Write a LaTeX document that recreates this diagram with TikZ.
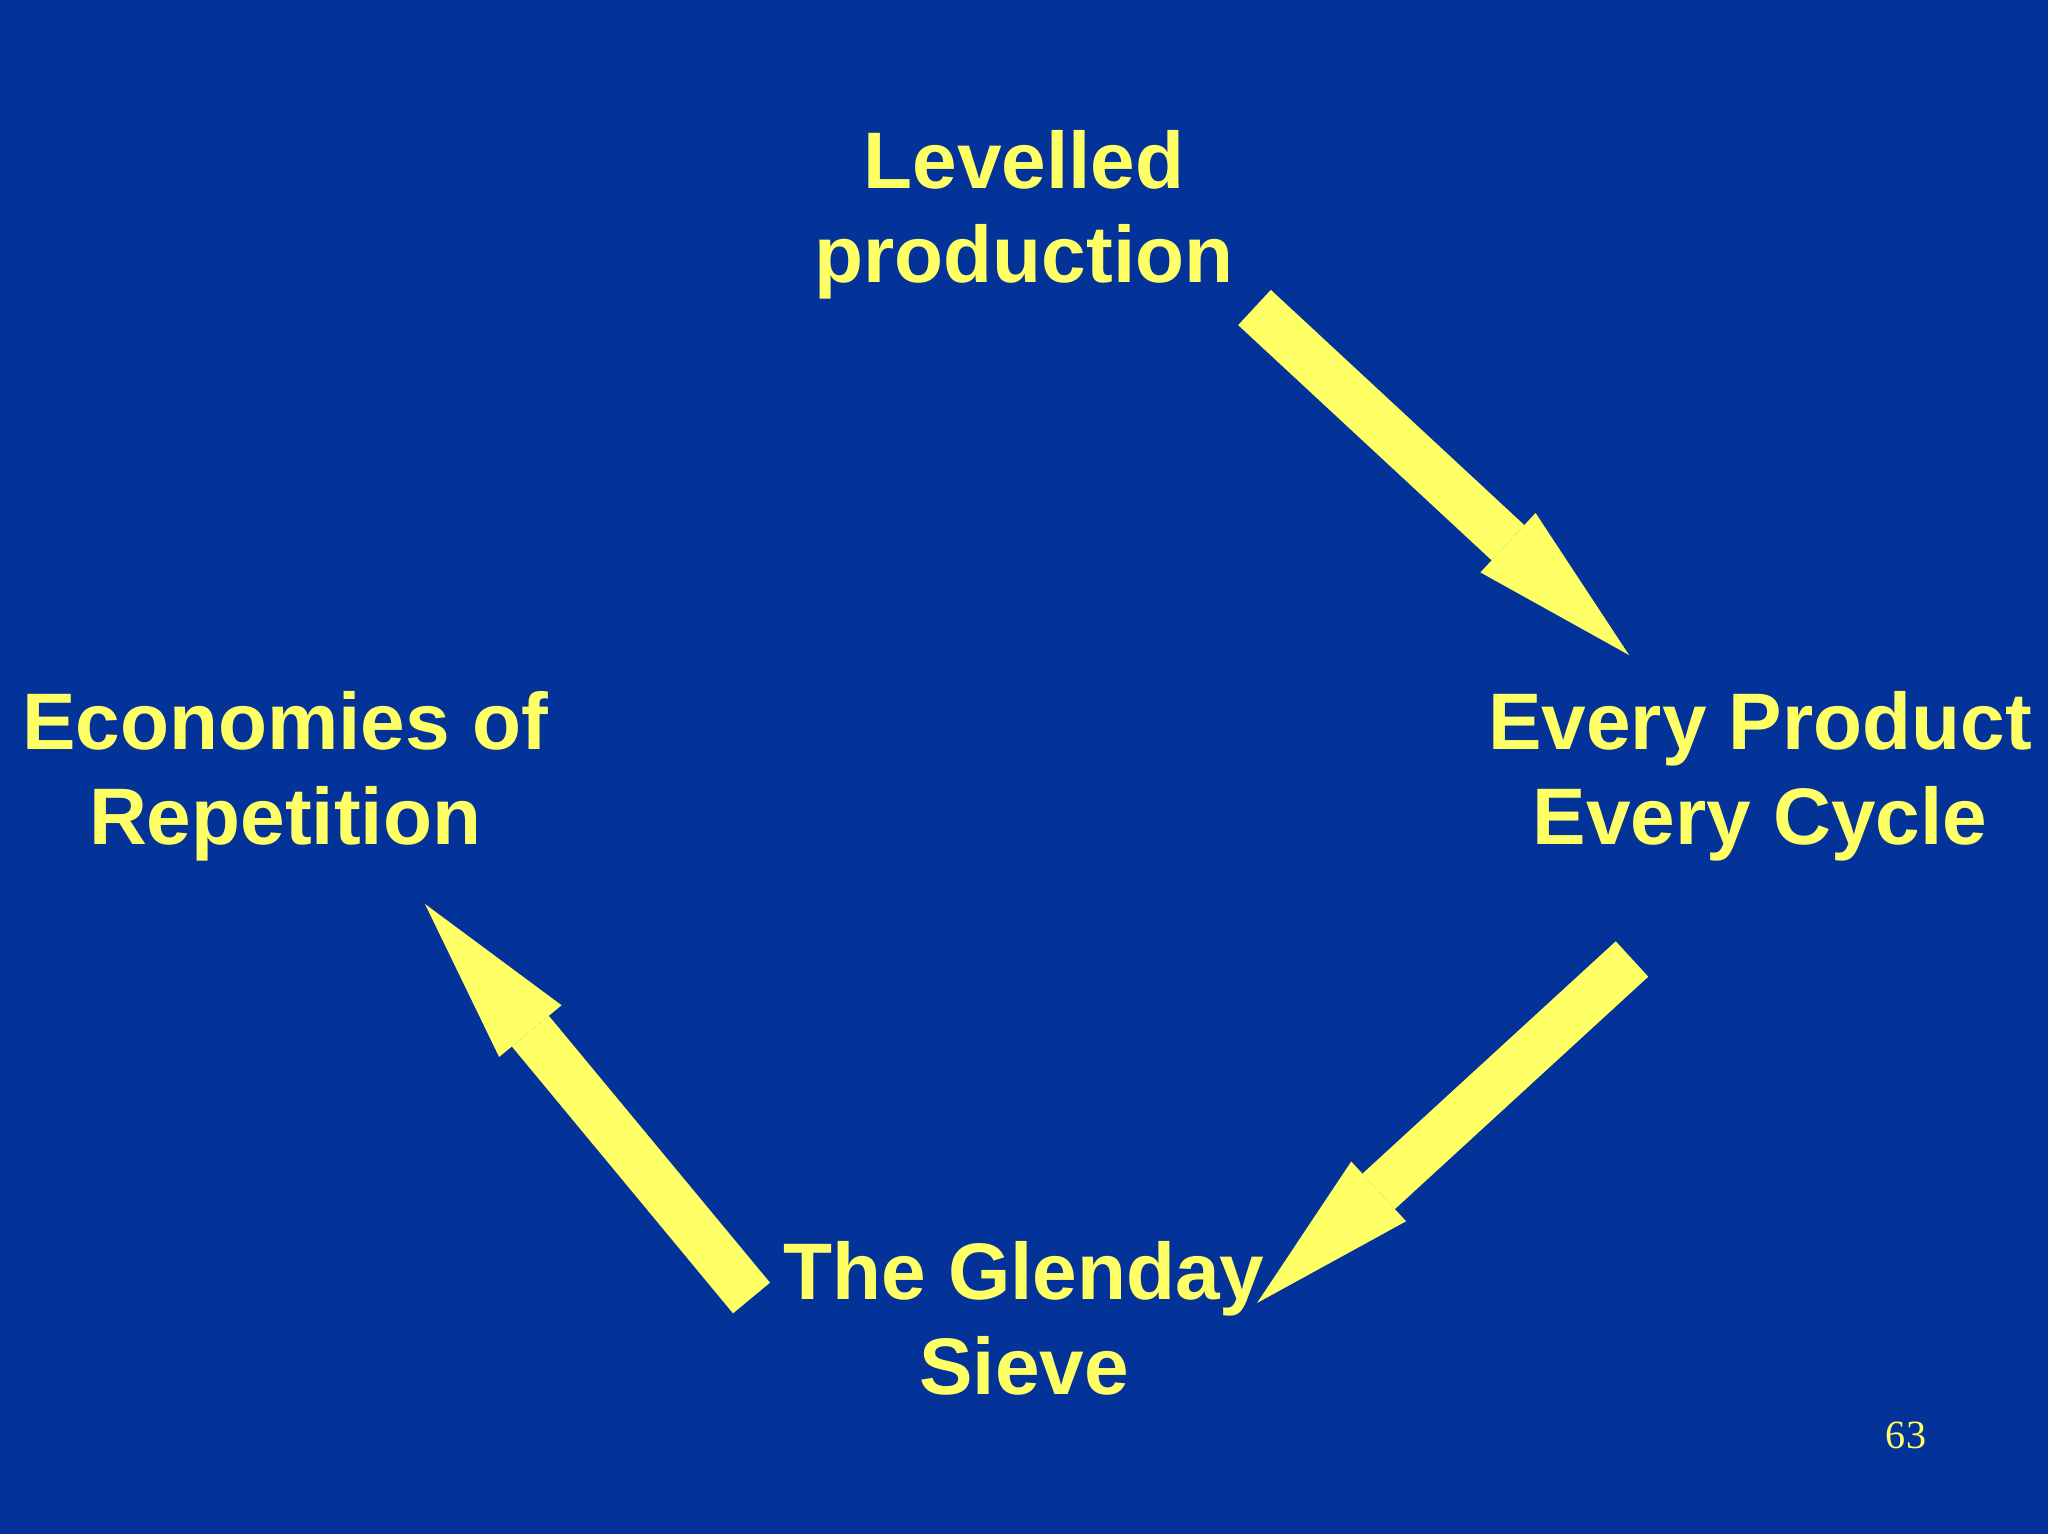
\documentclass[tikz,border=0pt]{standalone}
\usepackage{fontspec}
\setmainfont{Liberation Sans}
\newfontfamily\pagefont{Liberation Serif}
\usetikzlibrary{arrows.meta}
\definecolor{slideblue}{RGB}{3,51,153}
\definecolor{slideyellow}{RGB}{255,255,102}

\begin{document}
\begin{tikzpicture}[x=0.01cm, y=-0.01cm,
    label text/.style = {align = center, inner sep = 0pt, anchor = base, text = slideyellow,
      font = \fontsize{22.8pt}{27pt}\selectfont\bfseries},
    fat arrow/.style = {draw = slideyellow, line width = 0.48cm, line cap = butt,
      -{Triangle[length = 1.65cm, width = 0.81cm, line width = 0pt]}}]
    \fill[slideblue] (0, 0) rectangle (2048, 1534);
    \useasboundingbox (0, 0) rectangle (2048, 1534);
    \node[label text] (levelled production) at (1024, 283) {Levelled \\ production};
    \node[label text] (every product) at (1760, 844) {Every Product \\ Every Cycle};
    \node[label text] (glenday sieve) at (1024, 1394) {The Glenday \\ Sieve};
    \node[label text] (economies) at (285, 844) {Economies of \\ Repetition};
    \coordinate (levelled out) at (1254.5, 307.5);
    \coordinate (every product in) at (1629, 655);
    \coordinate (every product out) at (1632, 959);
    \coordinate (glenday in) at (1257, 1303);
    \coordinate (glenday out) at (751.5, 1298);
    \coordinate (economies in) at (425, 904);
    \draw[fat arrow] (levelled out) -- (every product in);
    \draw[fat arrow] (every product out) -- (glenday in);
    \draw[fat arrow] (glenday out) -- (economies in);
    \node[inner sep = 0pt, anchor = base, text = slideyellow, font = \pagefont\fontsize{11.4pt}{13pt}\selectfont]
      (page number) at (1906, 1448) {63};
  \end{tikzpicture}
\end{document}
